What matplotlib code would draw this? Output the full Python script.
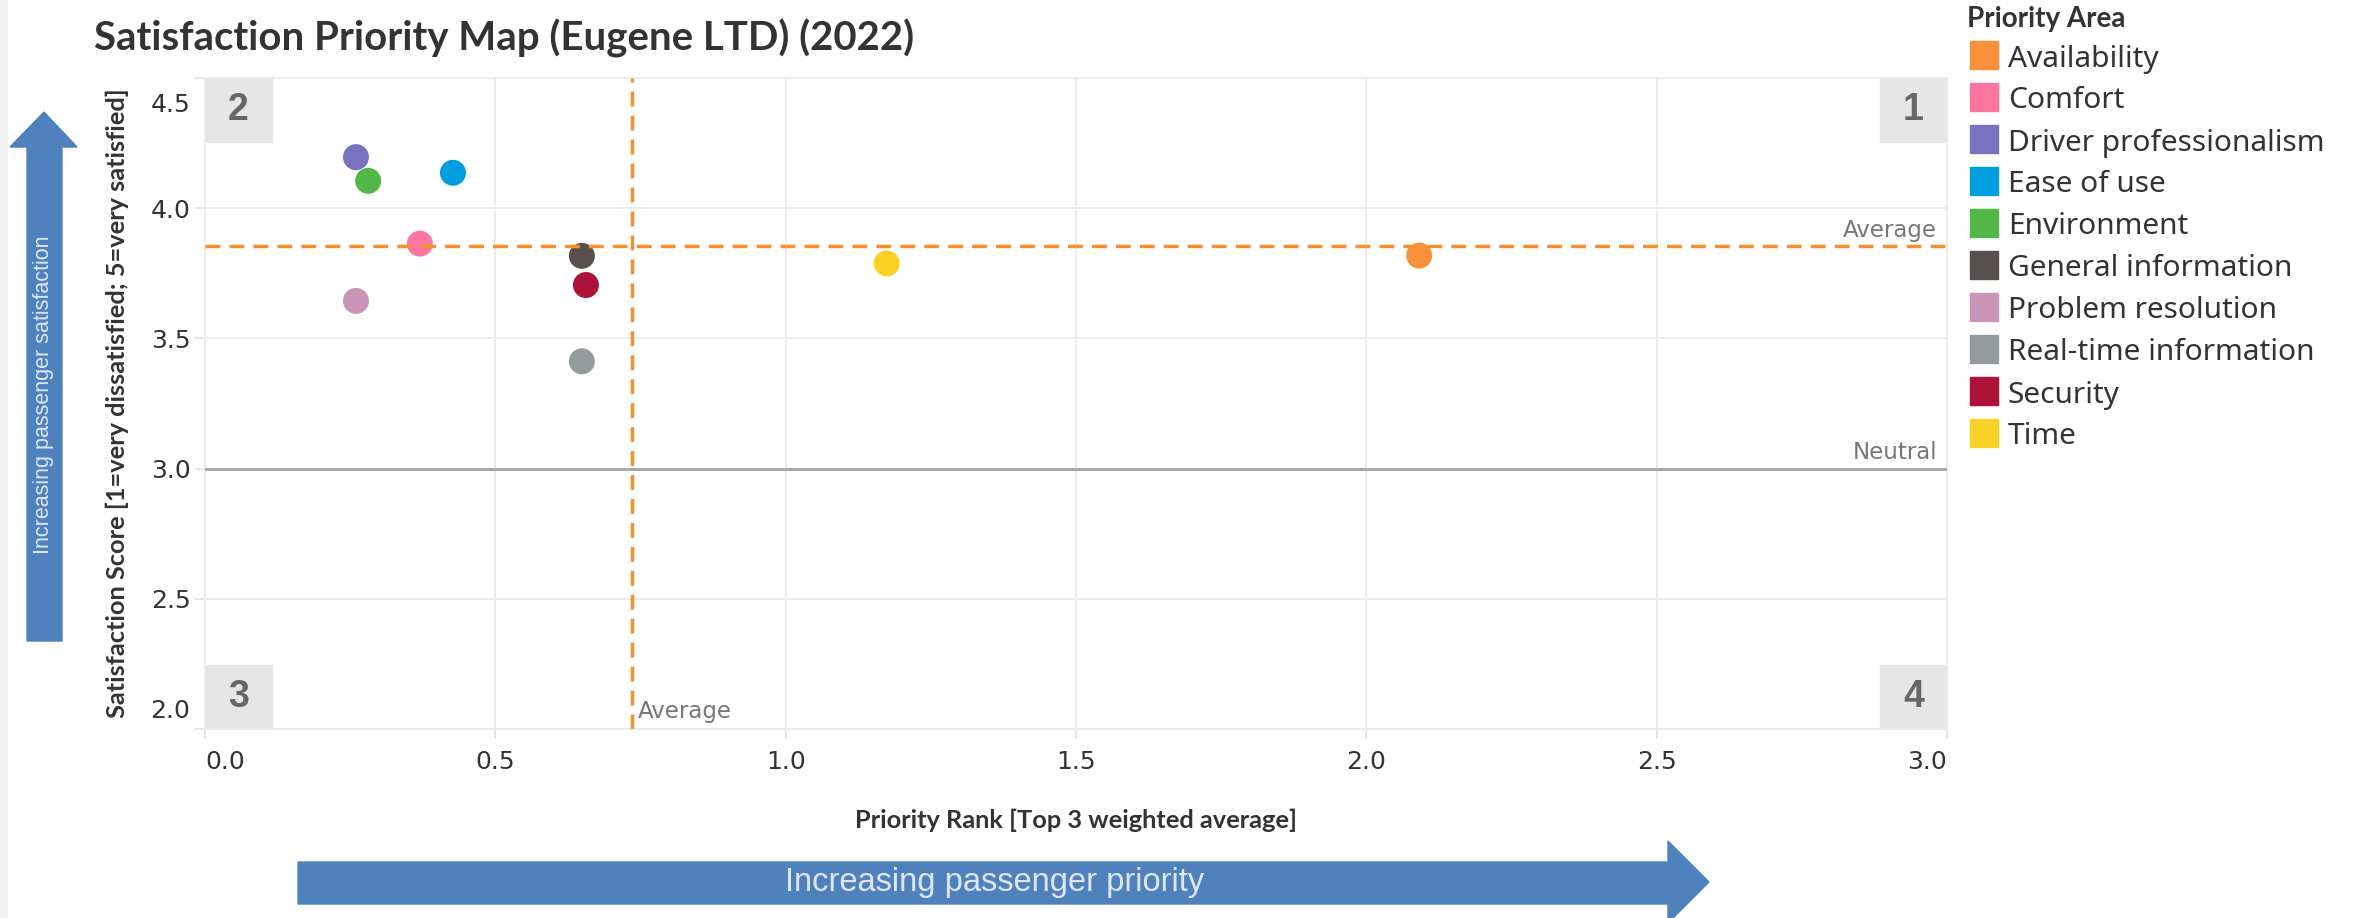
import matplotlib
matplotlib.use("Agg")
import matplotlib.pyplot as plt
from matplotlib.patches import Polygon, Rectangle
from matplotlib.transforms import ScaledTranslation

# -----------------------------------------------------------------------
# Survey results per priority area
# -----------------------------------------------------------------------
areas = ["Availability", "Comfort", "Driver professionalism", "Ease of use",
         "Environment", "General information", "Problem resolution",
         "Real-time information", "Security", "Time"]
priority_rank = [2.091, 0.370, 0.260, 0.427, 0.281, 0.649, 0.260, 0.649, 0.656, 1.174]
satisfaction  = [3.818, 3.864, 4.196, 4.136, 4.105, 3.817, 3.644, 3.412, 3.705, 3.788]
area_colors   = ["#f89139", "#fe76a0", "#7871bf", "#009ddf", "#51b848",
                 "#5a4f4f", "#c994b6", "#949b9c", "#ae1239", "#f8d224"]

avg_rank         = 0.736
avg_satisfaction = 3.855
neutral_score    = 3.0

x_ticks = [0.0, 0.5, 1.0, 1.5, 2.0, 2.5, 3.0]
y_ticks = [2.0, 2.5, 3.0, 3.5, 4.0, 4.5]
quadrants = ["2", "1", "3", "4"]

W, H = 2358, 918
DPI = 100
TEXT = "#333333"
ORANGE = "#f5902e"
ARROW = "#4f81bd"


def fx(x):
    return x / W


def fy(y):
    return 1 - y / H


fig = plt.figure(figsize=(W / DPI, H / DPI), dpi=DPI)
fig.patches.append(Rectangle((0, 0), fx(7), 1, transform=fig.transFigure,
                             color="#f2f2f2", zorder=0))

ax = fig.add_axes([fx(205), fy(729), fx(1947 - 205), (729 - 78) / H])
ax.set_xlim(0, 3.0)
ax.set_ylim(2.0, 4.5)
ax.set_xticks(x_ticks)
ax.set_yticks(y_ticks)
ax.set_xticklabels([f"{t:.1f}" for t in x_ticks])
ax.set_yticklabels([f"{t:.1f}" for t in y_ticks])
ax.grid(True, color="#ececec", lw=1.4, zorder=0)
ax.set_axisbelow(True)
for s in ax.spines.values():
    s.set_color("#ececec")
    s.set_linewidth(1.4)
ax.tick_params(length=7, width=1.4, color="#e6e6e6", labelsize=18,
               labelcolor=TEXT)
ax.tick_params(axis="y", pad=3.5)
ax.tick_params(axis="x", pad=8)

# end labels are pulled inside the plot range
xl = ax.get_xticklabels()
xl[0].set_ha("left")
xl[-1].set_ha("right")
yl = ax.get_yticklabels()
yl[-1].set_transform(yl[-1].get_transform() +
                     ScaledTranslation(0, -0.25, fig.dpi_scale_trans))
yl[0].set_transform(yl[0].get_transform() +
                    ScaledTranslation(0, 0.20, fig.dpi_scale_trans))

# quadrant markers in the corners
qw, qh = 67 / (1947 - 205), 64 / (729 - 78)
corners = [(0, 1 - qh), (1 - qw, 1 - qh), (0, 0), (1 - qw, 0)]
for (cx, cy), q in zip(corners, quadrants):
    ax.add_patch(Rectangle((cx, cy), qw, qh, transform=ax.transAxes,
                           color="#e6e6e6", zorder=1, clip_on=False))
    ax.text(cx + qw / 2, cy + qh / 2, q, transform=ax.transAxes,
            ha="center", va="center", fontsize=27, fontweight="bold",
            color="#666666", family="Liberation Sans", zorder=2)

ax.scatter(priority_rank, satisfaction, s=350, c=area_colors,
           linewidths=0, zorder=3)

# reference lines
ax.axhline(neutral_score, color="#aaaaaa", lw=2.2, zorder=4)
ax.axhline(avg_satisfaction, color=ORANGE, lw=2.5, dashes=(4.3, 2.6), zorder=4)
ax.axvline(avg_rank, color=ORANGE, lw=2.5, dashes=(4.3, 2.6), zorder=4)

ax.annotate("Average", (3.0, avg_satisfaction), xytext=(-7, 3),
            textcoords="offset points", ha="right", va="bottom",
            fontsize=16.5, color="#777777")
ax.annotate("Neutral", (3.0, neutral_score), xytext=(-7, 3.5),
            textcoords="offset points", ha="right", va="bottom",
            fontsize=16.5, color="#777777")
ax.annotate("Average", (avg_rank, 2.0), xytext=(4, 4),
            textcoords="offset points", ha="left", va="bottom",
            fontsize=16.5, color="#777777")

ax.set_xlabel("Priority Rank [Top 3 weighted average]", fontsize=18.3,
              fontweight="bold", color=TEXT, family="Lato")
ax.xaxis.set_label_coords(0.5, (729 - 820) / 651)
ax.xaxis.label.set_va("center")
ax.set_ylabel("Satisfaction Score [1=very dissatisfied; 5=very satisfied]",
              fontsize=18.3, fontweight="bold", color=TEXT, family="Lato")
ax.yaxis.set_label_coords((117 - 205) / 1742, 0.5)
ax.yaxis.label.set_va("center")

fig.text(fx(94), fy(38), "Satisfaction Priority Map (Eugene LTD) (2022)",
         ha="left", va="center", fontsize=28.9, fontweight="bold",
         color=TEXT, family="Lato")

# legend
fig.text(fx(1967), fy(19), "Priority Area", ha="left", va="center",
         fontsize=20, fontweight="bold", color=TEXT, family="Lato")
for i, (name, col) in enumerate(zip(areas, area_colors)):
    yc = 55 + 42 * i
    fig.patches.append(Rectangle((fx(1970), fy(yc + 14)), fx(28), 28 / H,
                                 transform=fig.transFigure, color=col))
    fig.text(fx(2008), fy(yc + 4), name, ha="left", va="center", fontsize=21.5,
             fontweight="light", color=TEXT, family="Noto Sans")

# direction arrows
up_arrow = [(27, 641), (27, 147), (10, 147), (44, 112), (77, 147), (62, 147), (62, 641)]
fig.patches.append(Polygon([(fx(x), fy(y)) for x, y in up_arrow], closed=True,
                           transform=fig.transFigure, color=ARROW))
fig.text(fx(44), fy(395), "Increasing passenger satisfaction", rotation=90,
         ha="center", va="center", fontsize=15.5, color="#dde7f3",
         family="Liberation Sans")

right_arrow = [(298, 862), (1668, 862), (1668, 841), (1709, 882), (1668, 923),
               (1668, 904), (298, 904)]
fig.patches.append(Polygon([(fx(x), fy(y)) for x, y in right_arrow], closed=True,
                           transform=fig.transFigure, color=ARROW))
fig.text(fx(995), fy(882), "Increasing passenger priority", ha="center",
         va="center", fontsize=23.5, color="#dde7f3", family="Liberation Sans")

fig.savefig("out.png", dpi=DPI)
